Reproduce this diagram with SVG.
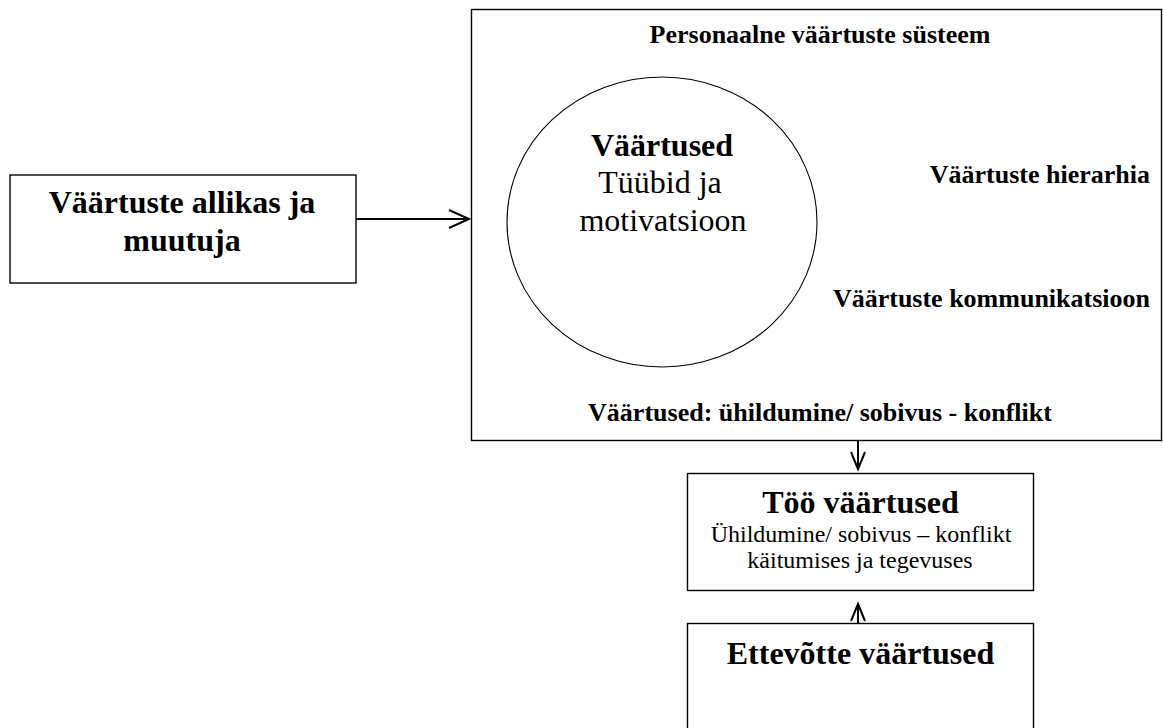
<svg xmlns="http://www.w3.org/2000/svg" width="1163" height="728" viewBox="0 0 1163 728">
  <style>
    .box { fill: #fff; stroke: #000; stroke-width: 1.4; }
    .oval { fill: none; stroke: #000; stroke-width: 1.1; }
    .wire { fill: none; stroke: #000; stroke-width: 2; }
    .head { fill: none; stroke: #000; stroke-width: 2; stroke-linejoin: miter; }
    text { font-family: "Liberation Serif", "Times New Roman", serif; fill: #000; text-anchor: middle; }
    .b32 { font-size: 32px; font-weight: bold; }
    .r32 { font-size: 32px; }
    .b26 { font-size: 26px; font-weight: bold; }
    .r24 { font-size: 24px; }
  </style>

  <rect width="1163" height="728" fill="#fff"/>

  <!-- source box -->
  <g id="allikas">
    <rect class="box" x="10" y="175" width="346" height="108"/>
    <text class="b32" x="182" y="213">Väärtuste allikas ja</text>
    <text class="b32" x="182" y="251">muutuja</text>
  </g>

  <!-- personal value system -->
  <g id="personaalne">
    <rect class="box" x="471.5" y="9.5" width="690" height="431"/>
    <text class="b26" x="820" y="43">Personaalne väärtuste süsteem</text>
    <text class="b26" x="1150" y="183" style="text-anchor:end">Väärtuste hierarhia</text>
    <text class="b26" x="1150" y="307" style="text-anchor:end">Väärtuste kommunikatsioon</text>
    <text class="b26" x="820" y="421">Väärtused: ühildumine/ sobivus - konflikt</text>
  </g>

  <g id="vaartused">
    <ellipse class="oval" cx="662" cy="222" rx="155" ry="145"/>
    <text class="b32" x="662" y="156">Väärtused</text>
    <text class="r32" x="660" y="193">Tüübid ja</text>
    <text class="r32" x="663" y="231">motivatsioon</text>
  </g>

  <!-- work values -->
  <g id="too">
    <rect class="box" x="687.5" y="473.5" width="346" height="117"/>
    <text class="b32" x="860.5" y="513">Töö väärtused</text>
    <text class="r24" x="861" y="542">Ühildumine/ sobivus – konflikt</text>
    <text class="r24" x="860" y="568">käitumises ja tegevuses</text>
  </g>

  <!-- company values -->
  <g id="ettevotte">
    <rect class="box" x="687.5" y="623.5" width="346" height="120"/>
    <text class="b32" x="860.5" y="664">Ettevõtte väärtused</text>
  </g>

  <!-- connectors -->
  <g id="connectors">
    <line class="wire" x1="356" y1="219" x2="469" y2="219"/>
    <path class="head" d="M449,210 L469,219 L449,228"/>

    <line class="wire" x1="858" y1="441" x2="858" y2="469"/>
    <path class="head" d="M851,452 L858,469 L865,452"/>

    <line class="wire" x1="858" y1="623" x2="858" y2="604"/>
    <path class="head" d="M851,621 L858,604 L865,621"/>
  </g>
</svg>
